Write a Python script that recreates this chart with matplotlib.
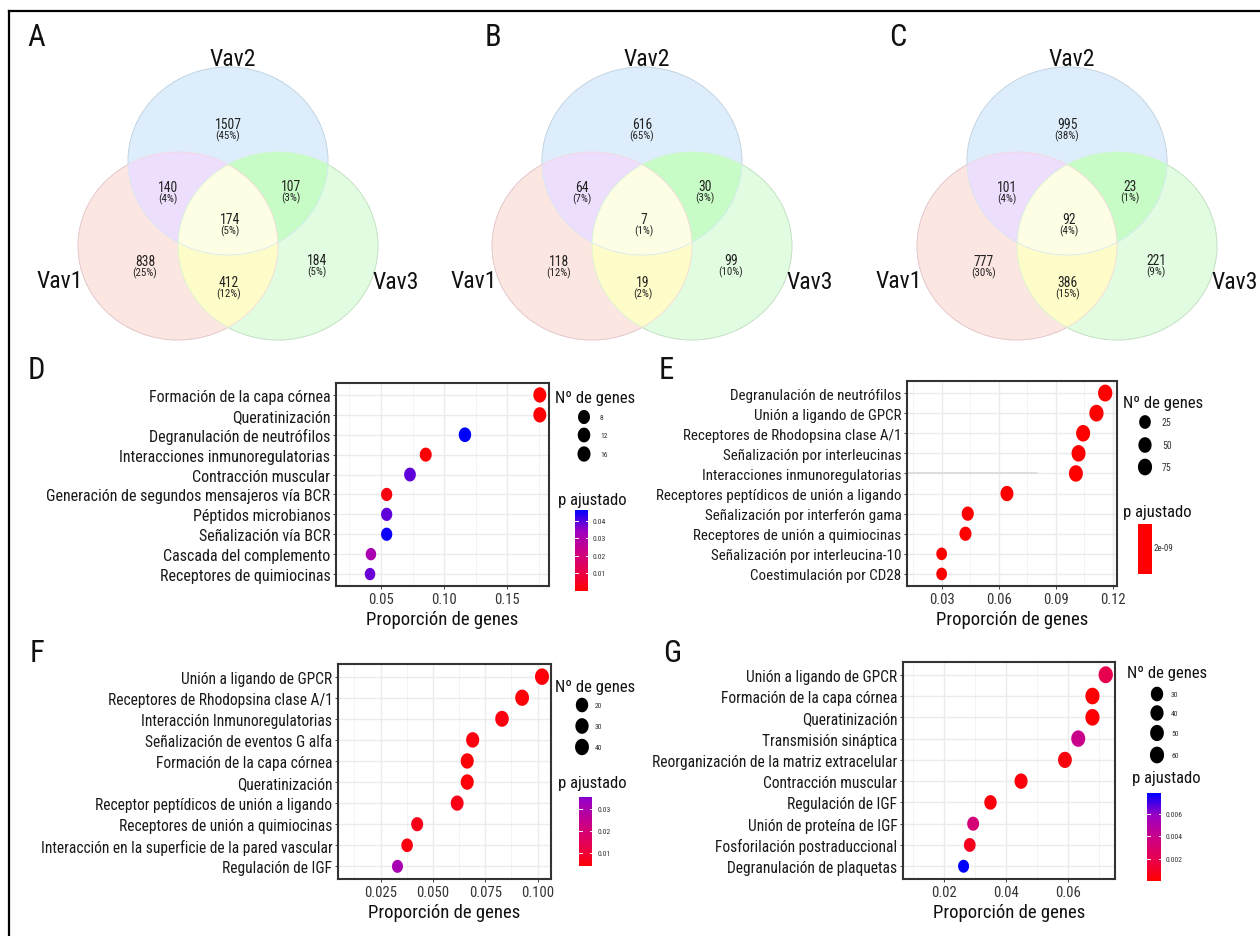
import numpy as np
import matplotlib
matplotlib.use('Agg')
import matplotlib.pyplot as plt
from matplotlib import font_manager as fm
from matplotlib.path import Path
from matplotlib.patches import Ellipse, Rectangle
from matplotlib.colors import LinearSegmentedColormap, Normalize, to_rgba

W, H = 1260, 937

# narrow font if there is one
names = {f.name for f in fm.fontManager.ttflist}
FONT = 'DejaVu Sans'
for cand in ['Liberation Sans Narrow', 'Roboto Condensed', 'Open Sans Condensed',
             'Noto Sans Condensed', 'DejaVu Sans Condensed']:
    if cand in names:
        FONT = cand
        break
plt.rcParams['font.family'] = [FONT, 'DejaVu Sans']
if FONT == 'DejaVu Sans':
    plt.rcParams['font.stretch'] = 'condensed'

# ---------------- Venn data ----------------
venn_regions = ['v2', 'v12', 'v23', 'v123', 'v1', 'v3', 'v13']
venn_A = [1507, 140, 107, 174, 838, 184, 412]
venn_B = [616, 64, 30, 7, 118, 99, 19]
venn_C = [995, 101, 23, 92, 777, 221, 386]
set_names = ['Vav1', 'Vav2', 'Vav3']

# ---------------- dot plot data ----------------
terms_D = ["Formación de la capa córnea", "Queratinización", "Degranulación de neutrófilos",
           "Interacciones inmunoregulatorias", "Contracción muscular",
           "Generación de segundos mensajeros vía BCR", "Péptidos microbianos",
           "Señalización vía BCR", "Cascada del complemento", "Receptores de quimiocinas"]
ratio_D = [0.176, 0.176, 0.1166, 0.0855, 0.073, 0.0545, 0.0545, 0.0545, 0.042, 0.0413]
count_D = [16, 16, 11, 8, 7, 5, 5, 5, 4, 4]
padj_D = [0.0005, 0.0005, 0.0461, 0.001, 0.039, 0.002, 0.039, 0.045, 0.031, 0.038]

terms_E = ["Degranulación de neutrófilos", "Unión a ligando de GPCR",
           "Receptores de Rhodopsina clase A/1", "Señalización por interleucinas",
           "Interacciones inmunoregulatorias", "Receptores peptídicos de unión a ligando",
           "Señalización por interferón gama", "Receptores de unión a quimiocinas",
           "Señalización por interleucina-10", "Coestimulación por CD28"]
ratio_E = [0.1159, 0.1113, 0.1043, 0.1019, 0.1005, 0.0643, 0.0437, 0.0425, 0.030, 0.030]
count_E = [80, 77, 72, 70, 69, 44, 30, 29, 21, 21]
padj_E = [2e-09] * 10

terms_F = ["Unión a ligando de GPCR", "Receptores de Rhodopsina clase A/1",
           "Interacción Inmunoregulatorias", "Señalización de eventos G alfa",
           "Formación de la capa córnea", "Queratinización",
           "Receptor peptídicos de unión a ligando", "Receptores de unión a quimiocinas",
           "Interacción en la superficie de la pared vascular", "Regulación de IGF"]
ratio_F = [0.1021, 0.0926, 0.083, 0.069, 0.0664, 0.0664, 0.0616, 0.0425, 0.0377, 0.0331]
count_F = [42, 38, 34, 28, 27, 27, 25, 17, 15, 14]
padj_F = [0.004, 0.004, 0.005, 0.005, 0.004, 0.004, 0.006, 0.006, 0.005, 0.031]

terms_G = ["Unión a ligando de GPCR", "Formación de la capa córnea", "Queratinización",
           "Transmisión sináptica", "Reorganización de la matriz extracelular",
           "Contracción muscular", "Regulación de IGF", "Unión de proteína de IGF",
           "Fosforilación postraduccional", "Degranulación de plaquetas"]
ratio_G = [0.0723, 0.068, 0.068, 0.0634, 0.0591, 0.0449, 0.035, 0.0294, 0.0283, 0.0263]
count_G = [63, 59, 59, 55, 51, 39, 30, 26, 25, 23]
padj_G = [0.002, 0.0001, 0.0001, 0.004, 0.0003, 0.0003, 0.0003, 0.0033, 0.0008, 0.0079]

size_breaks_D = [8, 12, 16]
size_breaks_E = [25, 50, 75]
size_breaks_F = [20, 30, 40]
size_breaks_G = [30, 40, 50, 60]

# red -> blue like ggplot (Lab interpolation)
CMAP = LinearSegmentedColormap.from_list('rb', ['#FF0000', '#E80050', '#CA0089', '#9B00C3', '#0000FF'])
ASPECT = 1.18
th = np.linspace(0, 2 * np.pi, 60)
DOT = Path(np.column_stack([np.cos(th), ASPECT * np.sin(th)]), closed=True)


def fa(l, t, r, b):
    return [l / W, 1 - b / H, (r - l) / W, (b - t) / H]


fig = plt.figure(figsize=(W / 100, H / 100), dpi=100)
ov = fig.add_axes([0, 0, 1, 1])
ov.set_xlim(0, W)
ov.set_ylim(H, 0)
ov.axis('off')

# outer frame
ov.plot([9, 9], [H + 5, 12], color='black', lw=1.6, solid_capstyle='projecting')
ov.plot([9, W + 5], [12, 12], color='black', lw=1.6, solid_capstyle='projecting')

# ---------------- Venn diagrams ----------------
region_colors = {1: '#fde6e1', 2: '#ddeefb', 3: '#ecdffc', 4: '#e1fde0',
                 5: '#fefcc8', 6: '#c9fcc6', 7: '#fefee5'}
table = np.zeros((8, 4))
for k, c in region_colors.items():
    table[k] = to_rgba(c)
edge_colors = ['#f8d4da', '#d0e6f7', '#d0f5d0']
rx, ry = 100, 94
label_off = {'v2': (0, 125), 'v12': (-60, 188), 'v23': (63, 187), 'v123': (2, 220),
             'v1': (-83, 262), 'v3': (89, 261), 'v13': (1, 283)}


def venn(cx, counts, letter, lx):
    centres = [(cx - 50, 247), (cx, 162), (cx + 50, 247)]
    x0, x1, y0, y1 = cx - 160, cx + 160, 60, 350
    xs = np.arange(x0, x1, 0.5) + 0.25
    ys = np.arange(y0, y1, 0.5) + 0.25
    X, Y = np.meshgrid(xs, ys)
    code = np.zeros(X.shape, dtype=int)
    for i, (ex, ey) in enumerate(centres):
        code += (((X - ex) / rx) ** 2 + ((Y - ey) / ry) ** 2 <= 1).astype(int) * (2 ** i)
    ov.imshow(table[code], extent=(x0, x1, y1, y0), origin='upper', aspect='auto',
              interpolation='antialiased', zorder=1)
    for (ex, ey), ec in zip(centres, edge_colors):
        ov.add_patch(Ellipse((ex, ey), 2 * rx, 2 * ry, fill=False, ec=ec, lw=0.5, zorder=2))
    total = sum(counts)
    for reg, n in zip(venn_regions, counts):
        dx, yy = label_off[reg]
        ov.text(cx + dx, yy, str(n), ha='center', va='center', fontsize=9.8, color='#222', zorder=3)
        ov.text(cx + dx, yy + 11.5, '(%d%%)' % round(100 * n / total), ha='center', va='center',
                fontsize=7.8, color='#222', zorder=3)
    ov.text(cx + 5, 59, set_names[1], ha='center', va='center', fontsize=17, color='#111')
    ov.text(cx - 168, 282, set_names[0], ha='center', va='center', fontsize=17, color='#111')
    ov.text(cx + 168, 283, set_names[2], ha='center', va='center', fontsize=17, color='#111')
    ov.text(lx, 37, letter, ha='center', va='center', fontsize=22, color='#111')


venn(228, venn_A, 'A', 36)
venn(642, venn_B, 'B', 493)
venn(1067, venn_C, 'C', 898)


# ---------------- dot plots ----------------
def diam(c, counts, dmin, dmax):
    c = np.asarray(c, float)
    lo, hi = min(counts), max(counts)
    return dmin + (dmax - dmin) * np.sqrt((c - lo) / (hi - lo))


def dotplot(box, terms, ratio, count, padj, norm, xlim, ticks, ticklabels, minor, dsz, fs):
    ax = fig.add_axes(fa(*box))
    n = len(terms)
    y = np.arange(n, 0, -1)
    d = diam(count, count, *dsz)
    ax.scatter(ratio, y, s=(d * ASPECT * 0.72) ** 2, c=CMAP(norm(np.array(padj))),
               marker=DOT, linewidths=0, zorder=3)
    ax.set_xlim(*xlim)
    ax.set_ylim(0.4, n + 0.6)
    ax.set_yticks(y)
    ax.set_yticklabels(terms, fontsize=fs, color='#1a1a1a')
    ax.set_xticks(ticks)
    ax.set_xticklabels(ticklabels, fontsize=10.5, color='#333')
    ax.set_xticks(minor, minor=True)
    ax.grid(which='major', color='#ebebeb', lw=1.0)
    ax.grid(which='minor', axis='x', color='#f3f3f3', lw=0.6)
    ax.set_axisbelow(True)
    ax.tick_params(which='major', length=2.5, width=0.7, color='#444', pad=1.5)
    ax.tick_params(which='minor', length=0)
    for sp in ax.spines.values():
        sp.set_color('#333')
        sp.set_linewidth(1.5)
    ax.set_xlabel('Proporción de genes', fontsize=13.5, color='#111', labelpad=3)
    return ax


def size_legend(x_title, y_title, xd, yds, xl, breaks, counts, dsz, lfs):
    ov.text(x_title, y_title, 'Nº de genes', ha='left', va='center', fontsize=12, color='#111')
    d = diam(breaks, counts, *dsz)
    ov.scatter([xd] * len(breaks), yds, s=(d * ASPECT * 0.72) ** 2, c='black',
               marker=DOT, linewidths=0, zorder=3)
    for b, yy in zip(breaks, yds):
        ov.text(xl, yy, str(b), ha='left', va='center', fontsize=lfs, color='#333')


def color_legend(x_title, y_title, bar, lo, hi, norm, ticks, xl, tfs):
    ov.text(x_title, y_title, 'p ajustado', ha='left', va='center', fontsize=12, color='#111')
    x0, y0, x1, y1 = bar
    vals = np.linspace(lo, hi, 200)[:, None]
    ov.imshow(CMAP(norm(vals)), extent=(x0, x1, y1, y0), origin='lower', aspect='auto',
              interpolation='bilinear', zorder=2)
    for t in ticks:
        yy = y1 - (t - lo) / (hi - lo) * (y1 - y0)
        ov.plot([x0, x0 + 2.5], [yy, yy], color='white', lw=0.7, zorder=3)
        ov.plot([x1 - 2.5, x1], [yy, yy], color='white', lw=0.7, zorder=3)
        ov.text(xl, yy, ('%.3f' % t).rstrip('0'), ha='left', va='center', fontsize=tfs, color='#333')


# D
norm_D = Normalize(0, 0.0461)
dotplot((336, 384, 549, 587), terms_D, ratio_D, count_D, padj_D, norm_D,
        (0.0143, 0.1833), [0.05, 0.10, 0.15], ['0.05', '0.10', '0.15'],
        [0.025, 0.075, 0.125, 0.175], (10.5, 13.0), 11.5)
size_legend(555, 399, 584, [418, 436, 455], 600, size_breaks_D, count_D, (10.5, 13.0), 5.5)
color_legend(558, 501, (575, 511, 588, 592), 0.0, 0.0461, norm_D, [0.01, 0.02, 0.03, 0.04], 593, 5.5)

# E
norm_E = Normalize(0, 1)
axE = dotplot((907, 382, 1117, 587), terms_E, ratio_E, count_E, padj_E, norm_E,
              (0.0118, 0.1221), [0.03, 0.06, 0.09, 0.12], ['0.03', '0.06', '0.09', '0.12'],
              [0.015, 0.045, 0.075, 0.105], (10.7, 14.3), 10.8)
axE.plot([0.0118, 0.08], [6, 6], color='#dedede', lw=1.4, zorder=1)
size_legend(1123, 404, 1145, [423, 446, 468], 1162, size_breaks_E, count_E, (10.7, 14.3), 7)
ov.text(1123, 513, 'p ajustado', ha='left', va='center', fontsize=12, color='#111')
ov.add_patch(Rectangle((1138, 525), 14, 50, color=CMAP(norm_E(padj_E[0])), lw=0, zorder=2))
ov.text(1154, 549, '%.0e' % padj_E[0], ha='left', va='center', fontsize=6.5, color='#333')

# F
norm_F = Normalize(0.003, 0.044)
dotplot((338, 665, 551, 880), terms_F, ratio_F, count_F, padj_F, norm_F,
        (0.0047, 0.1064), [0.025, 0.05, 0.075, 0.1], ['0.025', '0.050', '0.075', '0.100'],
        [0.0125, 0.0375, 0.0625, 0.0875], (11.0, 14.0), 11.2)
size_legend(555, 688, 582, [706, 727, 748], 595, size_breaks_F, count_F, (11.0, 14.0), 5.5)
color_legend(558, 784, (579, 798, 592, 867), 0.0041, 0.0353, norm_F, [0.01, 0.02, 0.03], 598, 5.5)

# G
norm_G = Normalize(0, 0.0079)
dotplot((903, 663, 1115, 880), terms_G, ratio_G, count_G, padj_G, norm_G,
        (0.0067, 0.0753), [0.02, 0.04, 0.06], ['0.02', '0.04', '0.06'],
        [0.01, 0.03, 0.05, 0.07], (11.0, 14.3), 11.2)
size_legend(1127, 674, 1157, [695, 714, 734, 756], 1171, size_breaks_G, count_G, (11.0, 14.3), 5.5)
color_legend(1132, 779, (1147, 794, 1161, 882), 0.0, 0.0079, norm_G, [0.002, 0.004, 0.006], 1166, 5.5)

# panel letters
for letter, x, y in [('D', 36, 371), ('E', 666, 371), ('F', 37, 654), ('G', 672, 654)]:
    ov.text(x, y, letter, ha='center', va='center', fontsize=22, color='#111')

ov.set_xlim(0, W)
ov.set_ylim(H, 0)
fig.savefig('out.png', dpi=100)
